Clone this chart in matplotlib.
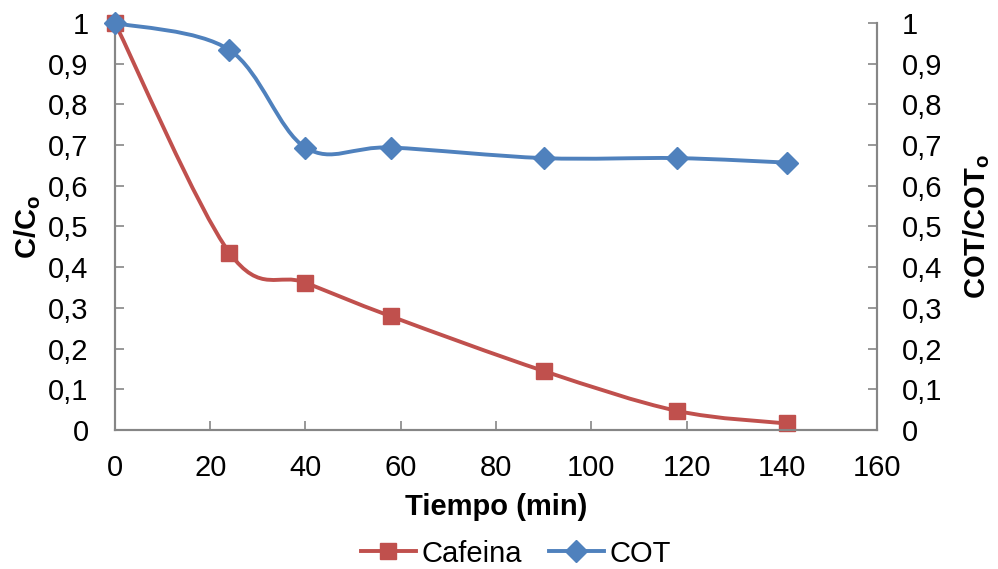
import numpy as np
import matplotlib.pyplot as plt
from matplotlib.path import Path
from matplotlib.patches import PathPatch
from matplotlib.lines import Line2D
from matplotlib.ticker import FuncFormatter

plt.rcParams['font.family'] = ['Liberation Sans', 'DejaVu Sans']
plt.rcParams['mathtext.fontset'] = 'custom'
plt.rcParams['mathtext.rm'] = 'Liberation Sans'
plt.rcParams['mathtext.bf'] = 'Liberation Sans:bold'

# data
tiempo = [0, 24, 40, 58, 90, 118, 141]
cafeina = [1.0, 0.436, 0.362, 0.279, 0.145, 0.047, 0.016]
cot = [1.0, 0.934, 0.694, 0.694, 0.668, 0.668, 0.657]

rojo = '#C0504D'
azul = '#4F81BD'
gris = '#868686'
fs = 21


def smooth_path(x, y):
    # excel-like smoothed line: cubic bezier through the points
    pts = np.column_stack([x, y]).astype(float)
    n = len(pts)
    verts = [pts[0]]
    codes = [Path.MOVETO]
    for i in range(n - 1):
        p0 = pts[max(i - 1, 0)]
        p1 = pts[i]
        p2 = pts[i + 1]
        p3 = pts[min(i + 2, n - 1)]
        c1 = p1 + (p2 - p0) / 6.0
        c2 = p2 - (p3 - p1) / 6.0
        verts += [c1, c2, p2]
        codes += [Path.CURVE4] * 3
    return Path(verts, codes)


fig = plt.figure(figsize=(9.98, 5.69), dpi=100)
ax = fig.add_axes([0.1152, 0.2443, 0.7636, 0.7153])
ax2 = ax.twinx()

ax.add_patch(PathPatch(smooth_path(tiempo, cafeina), fill=False, color=rojo, lw=2.8, zorder=3))
ax.plot(tiempo, cafeina, ls='none', marker='s', ms=12, color=rojo, clip_on=False, zorder=4)

ax2.add_patch(PathPatch(smooth_path(tiempo, cot), fill=False, color=azul, lw=2.8, zorder=3))
ax2.plot(tiempo, cot, ls='none', marker='D', ms=11, color=azul, clip_on=False, zorder=4)

fmt = FuncFormatter(lambda v, p: ('%g' % round(v, 1)).replace('.', ','))
for a in (ax, ax2):
    a.set_xlim(0, 160)
    a.set_ylim(0, 1)
    a.set_yticks(np.arange(0, 1.01, 0.1))
    a.yaxis.set_major_formatter(fmt)
    a.spines['top'].set_visible(False)
    for s in ('left', 'right', 'bottom'):
        a.spines[s].set_color(gris)
        a.spines[s].set_linewidth(1.5)
    a.tick_params(direction='in', length=6.5, width=1.2, color=gris, labelsize=fs, pad=17)

ax.set_xticks(range(0, 161, 20))
ax.tick_params(axis='y', pad=19)
ax2.tick_params(axis='y', pad=18)

ax.set_xlabel('Tiempo (min)', fontsize=fs, fontweight='bold')
ax.xaxis.set_label_coords(0.5, -0.155)
ax.set_ylabel(r'$\mathbf{C/C_o}$', fontsize=fs)
ax.yaxis.set_label_coords(-0.095, 0.5)
ax2.set_ylabel(r'$\mathbf{COT/COT_o}$', fontsize=fs)
ax2.yaxis.set_label_coords(1.111, 0.5)

handles = [Line2D([], [], color=rojo, lw=2.8, marker='s', ms=12),
           Line2D([], [], color=azul, lw=2.8, marker='D', ms=11)]
fig.legend(handles, ['Cafeina', 'COT'], loc='center', bbox_to_anchor=(0.517, 0.027),
           ncol=2, frameon=False, fontsize=fs, handlelength=1.9, handletextpad=0.2,
           columnspacing=0.9, borderaxespad=0)

fig.savefig('out.png', dpi=100)
